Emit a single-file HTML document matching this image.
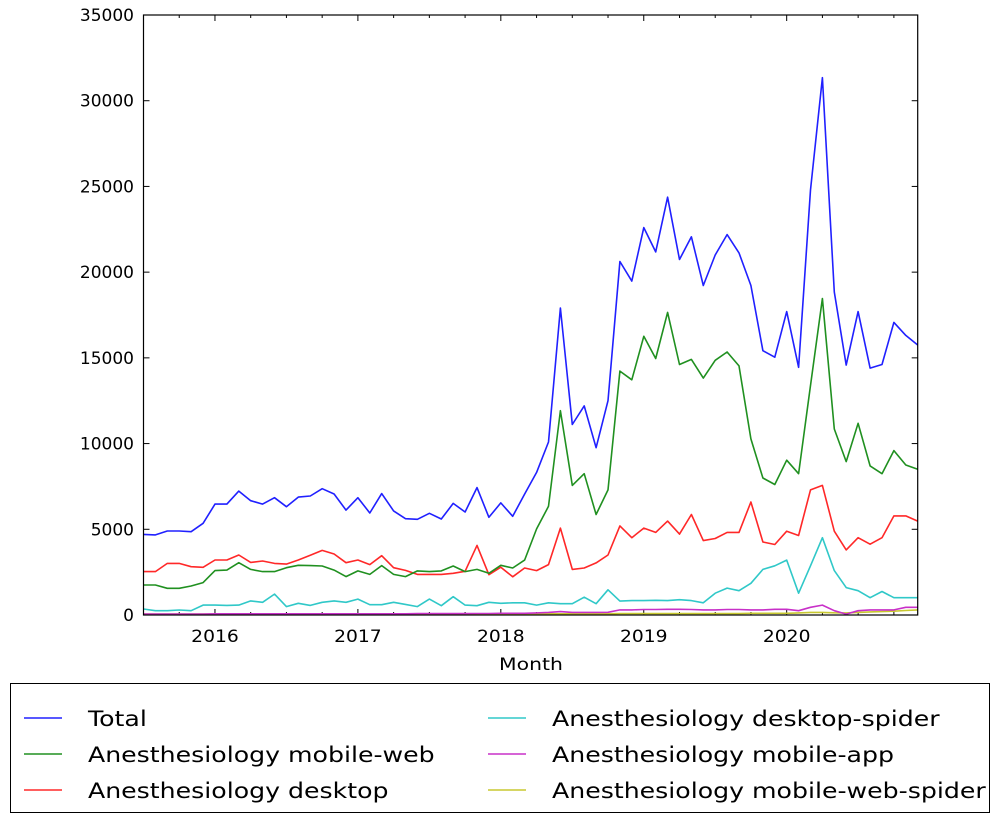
<!DOCTYPE html>
<html><head><meta charset="utf-8"><style>
body{margin:0;background:#fff;width:999px;height:819px;overflow:hidden;font-family:"DejaVu Sans","Liberation Sans",sans-serif;}
svg text{font-family:"DejaVu Sans","Liberation Sans",sans-serif;}
</style></head><body>
<svg id="chart" width="999" height="819" xmlns="http://www.w3.org/2000/svg"></svg>
<script>
const startYear = 2015, startMonth = 7;
const yTicks = [0,5000,10000,15000,20000,25000,30000,35000];
const xTickYears = [2016,2017,2018,2019,2020];
const seriesNames = ["Total","Anesthesiology mobile-web","Anesthesiology desktop","Anesthesiology desktop-spider","Anesthesiology mobile-app","Anesthesiology mobile-web-spider"];
const seriesColors = ["#2020ff","#209020","#ff2828","#30c8c8","#c830c8","#c8c830"];
const totalVals = [4700,4670,4900,4900,4860,5350,6470,6470,7230,6670,6470,6840,6320,6880,6940,7370,7060,6120,6840,5950,7080,6070,5620,5580,5930,5600,6510,6010,7430,5700,6540,5760,7050,8320,10090,17900,11110,12200,9760,12500,20620,19480,22600,21180,24370,20740,22060,19220,21000,22190,21120,19220,15420,15040,17700,14450,24800,31340,18840,14580,17700,14400,14610,17070,16310,15750];
const mobileWebVals = [1750,1750,1560,1560,1690,1890,2590,2620,3050,2660,2530,2530,2760,2900,2880,2860,2620,2240,2570,2370,2880,2370,2240,2570,2530,2570,2860,2530,2660,2430,2900,2740,3200,5020,6340,11920,7560,8240,5860,7300,14230,13720,16260,14960,17650,14610,14910,13820,14860,15340,14530,10270,7990,7610,9030,8240,13390,18460,10850,8950,11180,8700,8240,9590,8750,8500];
const desktopVals = [2530,2530,3010,3010,2820,2780,3210,3210,3500,3070,3150,3010,2970,3210,3480,3770,3560,3050,3210,2940,3460,2760,2600,2370,2370,2370,2430,2550,4060,2350,2790,2230,2740,2590,2940,5070,2660,2740,3040,3500,5200,4510,5070,4820,5480,4720,5860,4340,4460,4820,4820,6590,4260,4110,4890,4640,7300,7560,4890,3800,4510,4130,4510,5780,5780,5480];
const desktopSpiderVals = [350,250,250,290,250,580,580,560,580,820,740,1220,490,680,560,740,820,740,930,600,600,740,620,490,930,540,1070,580,540,740,680,710,710,580,710,660,660,1040,660,1470,810,840,840,860,840,890,840,710,1270,1570,1420,1850,2660,2870,3200,1270,2870,4510,2590,1600,1420,1010,1370,1010,1010,1010];
const mobileAppVals = [60,60,60,60,60,60,70,70,70,70,70,70,70,70,70,70,70,70,70,70,70,70,70,80,80,80,80,80,90,90,100,100,100,120,150,200,150,150,150,160,300,300,320,320,330,330,320,300,300,320,320,300,300,330,330,250,450,580,250,50,250,300,300,300,450,450];
const mobileWebSpiderVals = [50,50,50,50,50,50,50,50,50,50,50,50,50,50,50,50,50,50,50,50,50,50,50,60,60,60,60,60,60,60,70,70,70,70,70,70,70,70,70,70,80,80,80,80,80,80,80,80,80,80,80,100,100,100,100,120,150,150,130,120,150,180,200,220,260,300];
const allSeries = [totalVals,mobileWebVals,desktopVals,desktopSpiderVals,mobileAppVals,mobileWebSpiderVals];

const NS="http://www.w3.org/2000/svg";
const svg=document.getElementById('chart');
const L=143.5,R=917.7,T=15,B=615,YMAX=35000;
const nMonths=totalVals.length;
function xScale(mi){return L+mi*(R-L)/(nMonths-1);}
function yScale(v){return B-v*(B-T)/YMAX;}
function monthIndex(y,m){return (y-startYear)*12+(m-startMonth);}
function mk(tag,attrs,parent){const e=document.createElementNS(NS,tag);for(const k in attrs)e.setAttribute(k,attrs[k]);(parent||svg).appendChild(e);return e;}

for(const v of yTicks){
  const y=yScale(v);
  const t=mk('line',{x1:L,x2:L+6,y1:y,y2:y,stroke:'#000','stroke-width':1});
  
  
  const t2=mk('line',{x1:R-6,x2:R,y1:y,y2:y,stroke:'#000','stroke-width':1});
  
  
  const lb=mk('text',{x:134,y:y+6,'text-anchor':'end','font-size':17,fill:'#000'});
  lb.textContent=v;
  
  
}
for(let mi=0;mi<nMonths;mi++){
  const month=(startMonth-1+mi)%12+1;
  if((month-1)%3!==0)continue;
  const x=xScale(mi);
  const len=month===1?6:3;
  const a=mk('line',{x1:x,x2:x,y1:B,y2:B-len,stroke:'#000','stroke-width':1});
  
  
  const b=mk('line',{x1:x,x2:x,y1:T,y2:T+len,stroke:'#000','stroke-width':1});
  
  
}
for(const yr of xTickYears){
  const x=xScale(monthIndex(yr,1));
  const lb=mk('text',{x:x,y:642,'text-anchor':'middle','font-size':17,fill:'#000',transform:'translate('+x+' 0) scale(1.1 1) translate('+(-x)+' 0)'});
  lb.textContent=yr;
  
  
}
const xt=mk('text',{x:531,y:670,'text-anchor':'middle','font-size':17,fill:'#000',transform:'translate(531 0) scale(1.2 1) translate(-531 0)'});
xt.textContent='Month';



for(let s=allSeries.length-1;s>=0;s--){
  const vals=allSeries[s];
  const d=vals.map((v,i)=>(i?'L':'M')+xScale(i).toFixed(1)+' '+yScale(v).toFixed(1)).join(' ');
  const p=mk('path',{d:d,fill:'none',stroke:seriesColors[s],'stroke-width':1.6,'stroke-linejoin':'round'});
  
  
}
const frame=mk('rect',{x:L,y:T,width:R-L,height:B-T,fill:'none',stroke:'#000','stroke-width':1.2});



const lg=mk('g',{});


const box=mk('rect',{x:10.5,y:683.5,width:979,height:129,fill:'#fff',stroke:'#000','stroke-width':1},lg);


for(let s=0;s<seriesNames.length;s++){
  const col=Math.floor(s/3),row=s%3;
  const lx=col?488:24,tx=col?552:88,y=718+row*36;
  const ln=mk('line',{x1:lx,x2:lx+38,y1:y,y2:y,stroke:seriesColors[s],'stroke-width':1.6},lg);
  
  
  const t=mk('text',{x:tx,y:y+8,'font-size':21,fill:'#000',transform:'translate('+tx+' 0) scale(1.2 1) translate('+(-tx)+' 0)'},lg);
  t.textContent=seriesNames[s];
  
  
}
</script>
</body></html>
